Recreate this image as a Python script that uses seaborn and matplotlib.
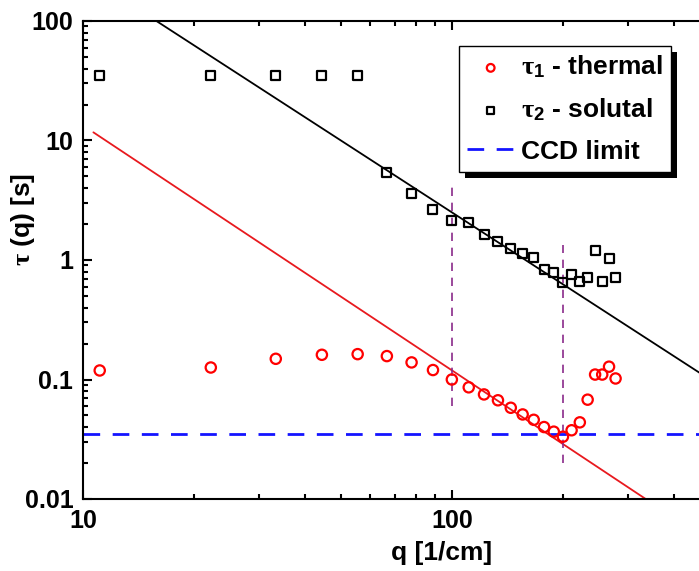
import numpy as np
import pandas as pd
import matplotlib
matplotlib.use("Agg")
import matplotlib.pyplot as plt
import seaborn as sns
from matplotlib.patches import Rectangle
from matplotlib.ticker import FixedLocator, FixedFormatter, LogLocator, NullFormatter

# ---- data ----
q_values = [11.1, 22.2, 33.3, 44.4, 55.5, 66.6, 77.7, 88.8, 99.9, 111.0,
            122.1, 133.2, 144.3, 155.4, 166.5, 177.6, 188.7, 199.8, 210.9, 222.0,
            233.1, 244.2, 255.3, 266.4, 277.5]
tau_thermal = [0.119, 0.126, 0.149, 0.161, 0.163, 0.157, 0.139, 0.120, 0.100, 0.086,
               0.075, 0.067, 0.058, 0.051, 0.046, 0.040, 0.0366, 0.0332, 0.0376, 0.0438,
               0.0678, 0.110, 0.110, 0.128, 0.102]
tau_solutal = [35.3, 35.3, 35.3, 35.3, 35.3, 5.42, 3.61, 2.67, 2.15, 2.07,
               1.64, 1.42, 1.25, 1.14, 1.05, 0.835, 0.79, 0.65, 0.75, 0.66,
               0.72, 1.20, 0.66, 1.03, 0.71]

# power-law fits tau = A * q^p
fit_thermal = {"A": 1500.0, "p": -2.05, "qmin": 10.67, "qmax": 340.0}
fit_solutal = {"A": 25000.0, "p": -2.0, "qmin": 10.0, "qmax": 470.0}

ccd_limit = 0.035
vline_q = [100, 200]
vline_lo = [0.06, 0.02]
vline_hi = [4.1, 1.33]

x_ticks = [10, 100]
x_ticklabels = ["10", "100"]
y_ticks = [0.01, 0.1, 1, 10, 100]
y_ticklabels = ["0.01", "0.1", "1", "10", "100"]

label_thermal = r"$\mathrm{\tau}_{\mathbf{1}}$ - thermal"
label_solutal = r"$\mathrm{\tau}_{\mathbf{2}}$ - solutal"
label_ccd = "CCD limit"

# ---- style ----
sns.set_style("ticks")
plt.rcParams["font.family"] = ["Liberation Sans", "DejaVu Sans"]
plt.rcParams["font.weight"] = "bold"
plt.rcParams["mathtext.fontset"] = "custom"
plt.rcParams["mathtext.rm"] = "Liberation Serif"
plt.rcParams["mathtext.bf"] = "Liberation Sans:bold"
plt.rcParams["mathtext.it"] = "Liberation Serif:italic"
for k in ["text.color", "axes.labelcolor", "xtick.color", "ytick.color"]:
    plt.rcParams[k] = "black"

W, H = 699, 571
fig = plt.figure(figsize=(W / 100, H / 100), dpi=100)
ax = fig.add_axes([83 / W, 72 / H, (699 - 83) / W, 478 / H])

df = pd.DataFrame({"q": q_values, "thermal": tau_thermal, "solutal": tau_solutal})

# fit lines
qa = np.geomspace(fit_thermal["qmin"], fit_thermal["qmax"], 200)
sns.lineplot(x=qa, y=fit_thermal["A"] * qa ** fit_thermal["p"], ax=ax,
             color="#e8191e", lw=1.3, legend=False)
qb = np.geomspace(fit_solutal["qmin"], fit_solutal["qmax"], 200)
sns.lineplot(x=qb, y=fit_solutal["A"] * qb ** fit_solutal["p"], ax=ax,
             color="black", lw=1.3, legend=False)

# vertical markers
for xv, lo, hi in zip(vline_q, vline_lo, vline_hi):
    ax.vlines(xv, lo, hi, colors="#8a2a8a", linestyles=(0, (5, 4)), lw=1.2)

# CCD limit
ax.axhline(ccd_limit, color="#1414ff", lw=2, ls=(0, (6, 4.5)), label=label_ccd)

# points
sns.scatterplot(data=df, x="q", y="thermal", ax=ax, marker="o", s=55,
                facecolor="none", edgecolor="#ff0000", linewidth=1.6,
                label=label_thermal, zorder=5)
sns.scatterplot(data=df, x="q", y="solutal", ax=ax, marker="s", s=42,
                facecolor="none", edgecolor="black", linewidth=1.6,
                label=label_solutal, zorder=5)

ax.set_xscale("log")
ax.set_yscale("log")
ax.set_xlim(10, 467)
ax.set_ylim(0.01, 100)

ax.xaxis.set_major_locator(FixedLocator(x_ticks))
ax.xaxis.set_major_formatter(FixedFormatter(x_ticklabels))
ax.xaxis.set_minor_locator(LogLocator(base=10, subs=np.arange(2, 10)))
ax.xaxis.set_minor_formatter(NullFormatter())
ax.yaxis.set_major_locator(FixedLocator(y_ticks))
ax.yaxis.set_major_formatter(FixedFormatter(y_ticklabels))
ax.yaxis.set_minor_locator(LogLocator(base=10, subs=np.arange(2, 10)))
ax.yaxis.set_minor_formatter(NullFormatter())

ax.tick_params(which="both", direction="in", top=True, right=False, width=1.5,
               labelsize=18, colors="black")
ax.tick_params(which="major", length=6.5)
ax.tick_params(axis="y", which="major", pad=7)
ax.tick_params(axis="x", which="major", pad=7)
ax.tick_params(which="minor", length=3.6)
for lab in ax.get_xticklabels() + ax.get_yticklabels():
    lab.set_fontweight("bold")

for s in ["left", "bottom", "top"]:
    ax.spines[s].set_linewidth(1.5)
    ax.spines[s].set_color("black")
ax.spines["right"].set_visible(False)

ax.set_xlabel("q [1/cm]", fontsize=19, fontweight="bold")
ax.set_ylabel(r"$\mathrm{\tau}$ (q) [s]", fontsize=19, fontweight="bold")
ax.xaxis.set_label_coords(0.582, -0.088)
ax.yaxis.set_label_coords(-0.074, 0.584)

handles, labels = ax.get_legend_handles_labels()
order = [labels.index(l) for l in [label_thermal, label_solutal, label_ccd]]
leg = ax.legend([handles[i] for i in order], [labels[i] for i in order],
                loc="upper left", bbox_to_anchor=(0.6104, 0.948),
                prop={"size": 19, "weight": "bold"}, frameon=True, fancybox=False,
                edgecolor="black", framealpha=1, borderpad=0.3, labelspacing=0.62,
                handlelength=1.8, handletextpad=0.25, borderaxespad=0, markerscale=0.75)
leg.get_frame().set_linewidth(1.0)
leg.set_zorder(10)

fig.canvas.draw()
bb = leg.get_window_extent()
inv = ax.transAxes.inverted()
(x0, y0), (x1, y1) = inv.transform([(bb.x0 + 6, bb.y0 - 6), (bb.x1 + 6, bb.y1 - 6)])
shadow = Rectangle((x0, y0), x1 - x0, y1 - y0, transform=ax.transAxes,
                   facecolor="black", edgecolor="none", zorder=9, clip_on=False)
ax.add_patch(shadow)

fig.savefig("out.png", dpi=100)
